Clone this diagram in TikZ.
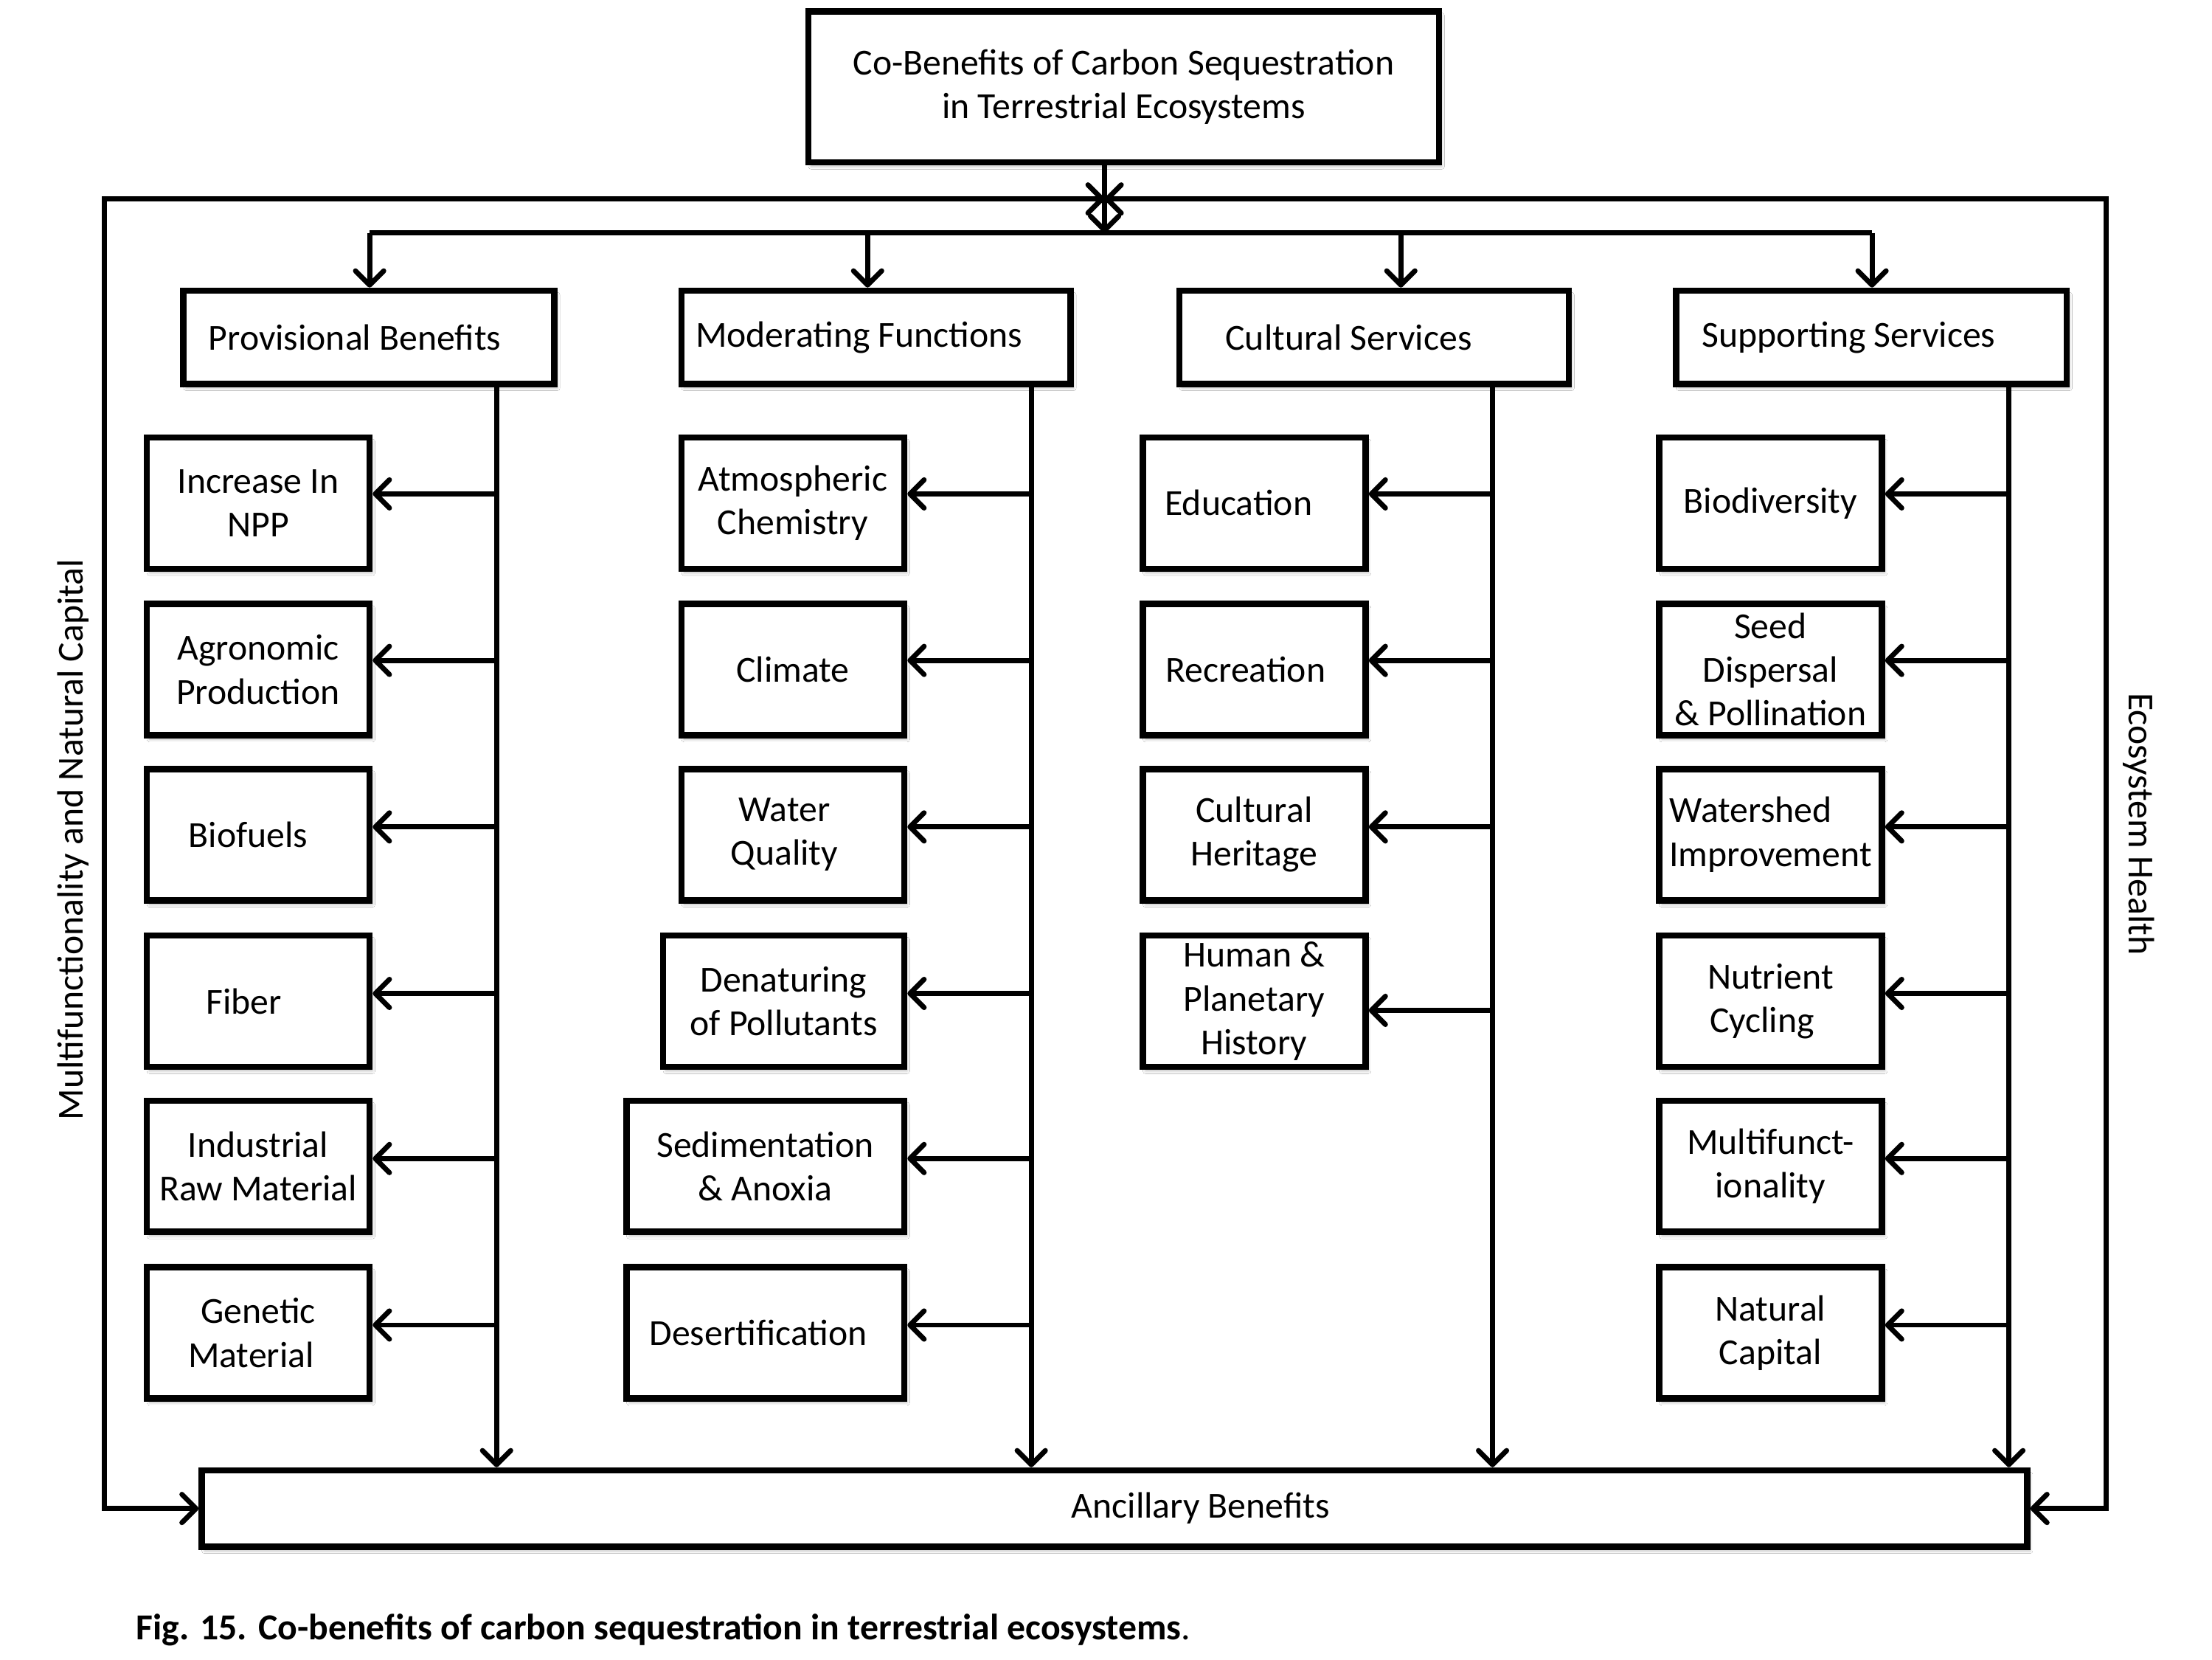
\documentclass[tikz,border=0pt]{standalone}
\usepackage{fontspec}
\setmainfont{Carlito}
\usetikzlibrary{arrows.meta,shadows.blur}
\begin{document}
\begin{tikzpicture}[x=1pt,y=-1pt,
  >={Straight Barb[length=10pt,width=20pt,round]},
  box/.style={draw,line width=4.5pt,fill=white,inner sep=0pt,align=center,
     blur shadow={shadow xshift=2pt,shadow yshift=-3pt,shadow blur steps=6,shadow opacity=25}},
  cat/.style={box,minimum height=66pt},
  item/.style={box,minimum width=158pt,minimum height=93pt},
  conn/.style={line width=3.6pt},
  every node/.style={font=\fontsize{26}{31}\selectfont}]
\useasboundingbox[fill=white] (0,0) rectangle (1568,1176);

% top box
\node[box,minimum width=447pt,minimum height=107pt] (top) at (796.5,61.5)
  {Co-Benefits of Carbon Sequestration\\in Terrestrial Ecosystems};

% categories
\node[cat,minimum width=263pt] (prov) at (261.5,239) {Provisional Benefits\hspace*{20pt}};
\node[cat,minimum width=276pt] (mod) at (621,239) {Moderating Functions\hspace*{24pt}};
\node[cat,minimum width=276pt] (cult) at (974,239) {Cultural Services\hspace*{36pt}};
\node[cat,minimum width=277pt] (supp) at (1326.5,239) {Supporting Services\hspace*{32pt}};

% ancillary
\node[box,minimum width=1294pt,minimum height=54pt] (anc) at (790,1069)
  {\hspace*{122pt}Ancillary Benefits};

% column 1
\node[item] (p1) at (183,356.5) {Increase In\\NPP};
\node[item] (p2) at (183,474.5) {Agronomic\\Production};
\node[item] (p3) at (183,591.5) {Biofuels\hspace*{14pt}};
\node[item] (p4) at (183,709.5) {Fiber\hspace*{20pt}};
\node[item] (p5) at (183,826.5) {Industrial\\Raw Material};
\node[item] (p6) at (183,944.5) {Genetic\\Material\hspace*{10pt}};

% column 2
\node[item] (m1) at (562,356.5) {Atmospheric\\Chemistry};
\node[item] (m2) at (562,474.5) {Climate};
\node[item] (m3) at (562,591.5) {Water\hspace*{12pt}\\Quality\hspace*{12pt}};
\node[item,minimum width=171pt] (m4) at (555.5,709.5) {Denaturing\\of Pollutants};
\node[item,minimum width=197pt] (m5) at (542.5,826.5) {Sedimentation\\\& Anoxia};
\node[item,minimum width=197pt] (m6) at (542.5,944.5) {Desertification\hspace*{10pt}};

% column 3
\node[item] (c1) at (889,356.5) {Education\hspace*{22pt}};
\node[item] (c2) at (889,474.5) {Recreation\hspace*{12pt}};
\node[item] (c3) at (889,591.5) {Cultural\\Heritage};
\node[item] (c4) at (889,709.5) {Human \&\\Planetary\\History};

% column 4
\node[item] (s1) at (1255,356.5) {Biodiversity};
\node[item] (s2) at (1255,474.5) {Seed\\Dispersal\\\& Pollination};
\node[item] (s3) at (1255,591.5) {Watershed\hspace*{28pt}\\Improvement};
\node[item] (s4) at (1255,709.5) {Nutrient\\Cycling\hspace*{12pt}};
\node[item] (s5) at (1255,826.5) {Multifunct-\\ionality};
\node[item] (s6) at (1255,944.5) {Natural\\Capital};

% side labels
\node[rotate=90] (lside) at (52,595) {Multifunctionality and Natural Capital};
\node[rotate=-90] (rside) at (1516,584) {Ecosystem Health};

% caption
\node[anchor=west] (cap) at (93,1155)
  {\bfseries Fig. 15. Co-benefits of carbon sequestration in terrestrial ecosystems\mdseries.};

% coordinates
\coordinate (tc) at (783,0);
\coordinate (fc) at (783,141);
\coordinate (fl) at (74,141);
\coordinate (fr) at (1493,141);
\coordinate (b1) at (262,165);
\coordinate (b2) at (615,165);
\coordinate (b3) at (993,165);
\coordinate (b4) at (1327,165);
\coordinate (t1) at (352,0);
\coordinate (t2) at (731,0);
\coordinate (t3) at (1058,0);
\coordinate (t4) at (1424,0);

% frame
\draw[conn,<->] (fc) -- (fl) |- (anc.west);
\draw[conn,<->] (fc) -- (fr) |- (anc.east);

% top connector and bus
\draw[conn,->] (tc |- top.south) -- (tc |- b1);
\draw[conn] (b1) -- (b4);
\draw[conn,->] (b1) -- (b1 |- prov.north);
\draw[conn,->] (b2) -- (b2 |- mod.north);
\draw[conn,->] (b3) -- (b3 |- cult.north);
\draw[conn,->] (b4) -- (b4 |- supp.north);

% trunks
\draw[conn,->] (t1 |- prov.south) -- (t1 |- anc.north);
\draw[conn,->] (t2 |- mod.south) -- (t2 |- anc.north);
\draw[conn,->] (t3 |- cult.south) -- (t3 |- anc.north);
\draw[conn,->] (t4 |- supp.south) -- (t4 |- anc.north);

% branches
\foreach \n/\yy in {1/350,2/468,3/586,4/704,5/821,6/939}{
  \draw[conn,->] (t1 |- 0,\yy) -- (p\n.east |- 0,\yy);
  \draw[conn,->] (t2 |- 0,\yy) -- (m\n.east |- 0,\yy);
  \draw[conn,->] (t4 |- 0,\yy) -- (s\n.east |- 0,\yy);
}
\foreach \n/\yy in {1/350,2/468,3/586,4/716}{
  \draw[conn,->] (t3 |- 0,\yy) -- (c\n.east |- 0,\yy);
}
\end{tikzpicture}
\end{document}
